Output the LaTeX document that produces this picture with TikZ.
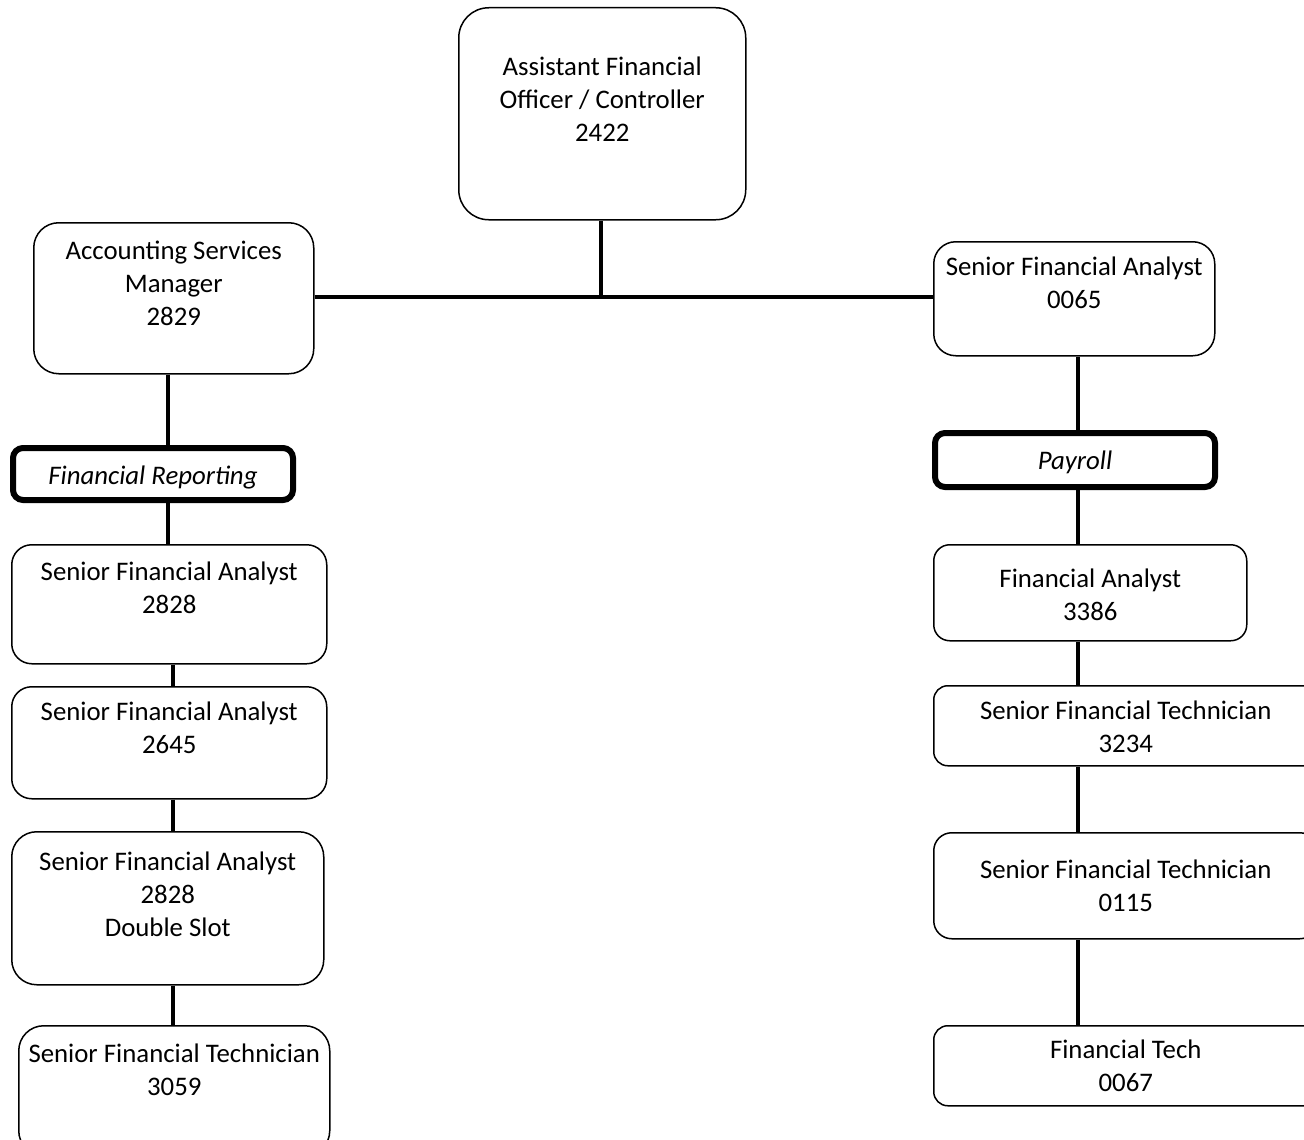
\documentclass[tikz,border=0pt]{standalone}
\usepackage{fontspec}
\setmainfont{Carlito}

\tikzset{every picture/.style={line width=1.5pt}}
\tikzset{
  post/.style={draw, rounded corners=20pt, inner sep=0pt, anchor=north west, line width=1.5pt},
  unit/.style={post, rounded corners=10pt, line width=6pt},
  link/.style={line width=4.5pt}
}
% box text: width, height, first baseline, lines
\newcommand{\postbox}[4]{\parbox[b][#2pt][t]{#1pt}{\centering\fontsize{26.8pt}{33pt}\selectfont\rule{0pt}{#3pt}#4\par}}

\begin{document}
\begin{tikzpicture}[x=1pt,y=1pt,yscale=-1,xscale=1]
\useasboundingbox (0,0) rectangle (1304,1140);
\clip (0,0) rectangle (1304,1140);

%Shape: Rounded Rect [top]
\node (aso) [post, rounded corners=30pt] at (458,7) {\postbox{287}{212}{68}{Assistant Financial\\Officer / Controller\\2422}};

%Shape: Rounded Rect [left column]
\node (asm) [post, rounded corners=25pt] at (33,222) {\postbox{280}{151}{37}{Accounting Services\\Manager\\2829}};
\node (fr) [unit] at (10,445) {\postbox{280}{52}{36}{\textit{Financial Reporting}}};
\node (sfa1) [post] at (11,544) {\postbox{315}{119}{36}{Senior Financial Analyst\\2828}};
\node (sfa2) [post] at (11,686) {\postbox{315}{112}{34}{Senior Financial Analyst\\2645}};
\node (sfa3) [post, rounded corners=25pt] at (11,831) {\postbox{312}{153}{39}{Senior Financial Analyst\\2828\\Double Slot}};
\node (sft1) [post, rounded corners=25pt] at (18,1025) {\postbox{311}{130}{37}{Senior Financial Technician\\3059}};

%Shape: Rounded Rect [right column]
\node (sfa65) [post, rounded corners=22pt] at (933,241) {\postbox{281}{114}{34}{Senior Financial Analyst\\0065}};
\node (pay) [unit] at (932,430) {\postbox{280}{54}{36}{\textit{Payroll}}};
\node (fa) [post, rounded corners=16pt] at (933,544) {\postbox{313}{96}{43}{Financial Analyst\\3386}};
\node (sft2) [post, rounded corners=14pt] at (933,685) {\postbox{384}{80}{34}{Senior Financial Technician\\3234}};
\node (sft3) [post, rounded corners=18pt] at (933,832) {\postbox{384}{106}{46}{Senior Financial Technician\\0115}};
\node (ft) [post, rounded corners=14pt] at (933,1025) {\postbox{384}{80}{33}{Financial Tech\\0067}};

% connectors
\coordinate (hub) at (601,297);
\coordinate (lspineA) at (168,0);
\coordinate (lspineB) at (173,0);
\coordinate (rspine) at (1078,0);

\draw[link] (aso.south -| hub) -- (hub);
\draw[link] (asm.east |- hub) -- (sfa65.west |- hub);

\draw[link] (asm.south -| lspineA) -- (fr.north -| lspineA);
\draw[link] (fr.south -| lspineA) -- (sfa1.north -| lspineA);
\draw[link] (sfa1.south -| lspineB) -- (sfa2.north -| lspineB);
\draw[link] (sfa2.south -| lspineB) -- (sfa3.north -| lspineB);
\draw[link] (sfa3.south -| lspineB) -- (sft1.north -| lspineB);

\draw[link] (sfa65.south -| rspine) -- (pay.north -| rspine);
\draw[link] (pay.south -| rspine) -- (fa.north -| rspine);
\draw[link] (fa.south -| rspine) -- (sft2.north -| rspine);
\draw[link] (sft2.south -| rspine) -- (sft3.north -| rspine);
\draw[link] (sft3.south -| rspine) -- (ft.north -| rspine);

\end{tikzpicture}
\end{document}
